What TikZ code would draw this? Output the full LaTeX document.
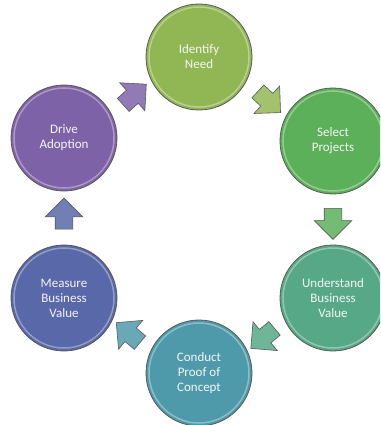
\documentclass[tikz,border=0pt]{standalone}
\usepackage{fontspec}
\setmainfont{Carlito}
\usetikzlibrary{shapes.arrows}

\definecolor{needgreen}{RGB}{145,183,85}
\definecolor{projgreen}{RGB}{92,176,90}
\definecolor{valuegreen}{RGB}{86,168,134}
\definecolor{proofteal}{RGB}{78,154,170}
\definecolor{measureblue}{RGB}{88,104,168}
\definecolor{adoptpurple}{RGB}{126,98,168}

\begin{document}
\begin{tikzpicture}[
  x=1pt, y=-1pt,
  stage/.style={circle, draw=gray!70!black, line width=0.8pt, minimum size=106pt,
    inner sep=0pt, align=center, text=white!92!gray,
    font=\fontsize{13}{15}\selectfont,
    path picture={\draw[white, opacity=0.35, line width=1.5pt]
      (path picture bounding box.center) circle (50pt);}},
  blockarrow/.style={single arrow, draw=gray!70!black, line width=0.6pt,
    minimum height=31pt, single arrow head extend=10pt,
    inner xsep=0pt, inner ysep=8.5pt, sloped, allow upside down}
]

\clip (0,0) rectangle (380,425);

% stages of the cycle
\node[stage, fill=needgreen]   (ident)   at (199,57)  {Identify\\Need};
\node[stage, fill=projgreen]   (select)  at (333,141) {Select\\Projects};
\node[stage, fill=valuegreen]  (underst) at (333,298) {Understand\\Business\\Value};
\node[stage, fill=proofteal]   (conduct) at (199,373) {Conduct\\Proof of\\Concept};
\node[stage, fill=measureblue] (measure) at (64,298)  {Measure\\Business\\Value};
\node[stage, fill=adoptpurple] (drive)   at (64,138)  {Drive\\Adoption};

% arrows between stages
\path (ident)   -- node[blockarrow, rotate=-11, fill=needgreen!85!white]   {} (select);
\path (select)  -- node[blockarrow, fill=projgreen!85!white]              {} (underst);
\path (underst) -- node[blockarrow, rotate=11, fill=valuegreen!85!white]   {} (conduct);
\path (conduct) -- node[blockarrow, rotate=-11, fill=proofteal!85!white]   {} (measure);
\path (measure) -- node[blockarrow, fill=measureblue!85!white]            {} (drive);
\path (drive)   -- node[blockarrow, rotate=11, fill=adoptpurple!85!white]  {} (ident);

\end{tikzpicture}
\end{document}
